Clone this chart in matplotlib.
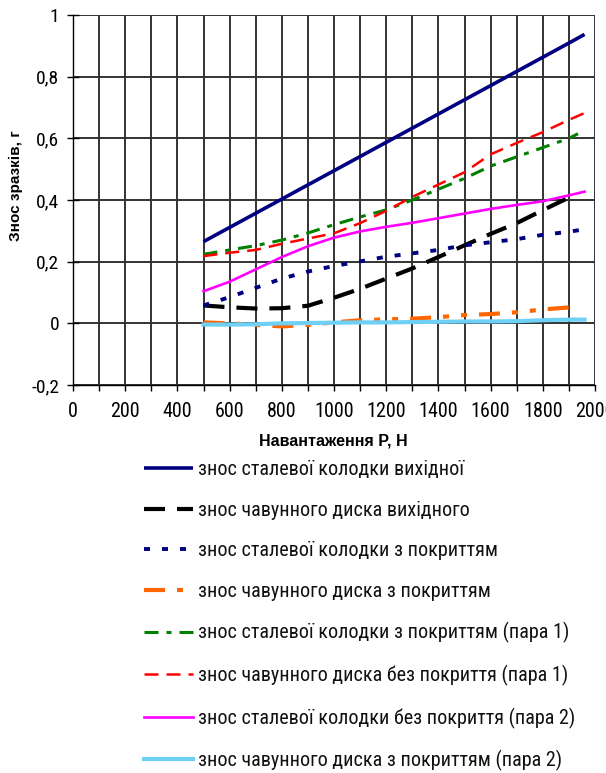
import matplotlib
matplotlib.use("Agg")
import matplotlib.pyplot as plt
from matplotlib.ticker import FixedLocator

plt.rcParams['font.family'] = ['Roboto Condensed', 'PT Sans Narrow', 'Liberation Sans', 'DejaVu Sans']
plt.rcParams['lines.scale_dashes'] = False

# ---------------- data ----------------
x_main = [500, 600, 700, 800, 900, 1000, 1100, 1200, 1300, 1400, 1500, 1600, 1700, 1800, 1900, 1960]

steel_initial = [0.265, 0.311, 0.357, 0.403, 0.449, 0.495, 0.541, 0.587, 0.633, 0.679,
                 0.725, 0.771, 0.817, 0.863, 0.909, 0.937]

x_iron_initial = [500, 600, 700, 800, 900, 1000, 1100, 1200, 1300, 1400, 1500, 1600, 1700, 1800, 1910]
iron_initial = [0.058, 0.052, 0.048, 0.049, 0.057, 0.083, 0.112, 0.145, 0.178, 0.215,
                0.253, 0.290, 0.325, 0.367, 0.412]

steel_coated = [0.058, 0.085, 0.115, 0.145, 0.168, 0.186, 0.201, 0.216, 0.227, 0.238,
                0.253, 0.263, 0.273, 0.287, 0.297, 0.305]

x_iron_coated = [500, 600, 700, 800, 900, 1000, 1100, 1200, 1300, 1400, 1500, 1600, 1700, 1800, 1920]
iron_coated = [0.003, 0.000, -0.005, -0.010, -0.005, 0.003, 0.010, 0.013, 0.015, 0.020,
               0.027, 0.030, 0.036, 0.045, 0.053]

x_steel_coated_p1 = [500, 600, 700, 800, 900, 1000, 1100, 1200, 1300, 1400, 1500, 1600, 1700, 1800, 1900, 1935]
steel_coated_p1 = [0.224, 0.238, 0.252, 0.270, 0.293, 0.320, 0.345, 0.368, 0.400, 0.435,
                   0.470, 0.510, 0.540, 0.570, 0.600, 0.615]

iron_uncoated_p1 = [0.218, 0.229, 0.238, 0.258, 0.275, 0.292, 0.325, 0.365, 0.410, 0.450,
                    0.490, 0.548, 0.585, 0.620, 0.660, 0.682]

steel_uncoated_p2 = [0.104, 0.135, 0.175, 0.215, 0.250, 0.278, 0.298, 0.313, 0.326, 0.341,
                     0.356, 0.371, 0.384, 0.396, 0.415, 0.427]

iron_coated_p2 = [-0.004, -0.004, -0.003, 0.000, 0.001, 0.002, 0.003, 0.003, 0.004, 0.005,
                  0.006, 0.006, 0.007, 0.010, 0.012, 0.012]

labels = [
    "знос сталевої колодки вихідної",
    "знос чавунного диска вихідного",
    "знос сталевої колодки з покриттям",
    "знос чавунного диска з покриттям",
    "знос сталевої колодки з покриттям (пара 1)",
    "знос чавунного диска без покриття (пара 1)",
    "знос сталевої колодки без покриття (пара 2)",
    "знос чавунного диска з покриттям (пара 2)",
]

x_ticks = list(range(0, 2001, 100))
x_tick_labels = [str(v) if v % 200 == 0 else "" for v in x_ticks]
y_ticks = [-0.2, 0.0, 0.2, 0.4, 0.6, 0.8, 1.0]
y_tick_labels = ["-0,2", "0", "0,2", "0,4", "0,6", "0,8", "1"]

# ---------------- figure ----------------
fig = plt.figure(figsize=(6.06, 7.73), dpi=100)
ax = fig.add_axes([73 / 606, 1 - 385 / 773, 522 / 606, 370 / 773])

px = 0.72  # points per pixel

ax.plot(x_main, steel_initial, color='#000080', lw=2.6, solid_capstyle='butt', label=labels[0])
ax.plot(x_iron_initial, iron_initial, color='black', lw=3.0,
        linestyle=(0, (21 * px, 12 * px)), label=labels[1])
ax.plot(x_main, steel_coated, color='#000080', lw=2.8,
        linestyle=(0, (6 * px, 12 * px)), label=labels[2])
ax.plot(x_iron_coated, iron_coated, color='#FF6600', lw=3.0,
        linestyle=(0, (21 * px, 12 * px, 6 * px, 12 * px, 6 * px, 12 * px)), label=labels[3])
ax.plot(x_steel_coated_p1, steel_coated_p1, color='#008000', lw=2.2,
        linestyle=(0, (14 * px, 8 * px, 5 * px, 8 * px)), label=labels[4])
ax.plot(x_main, iron_uncoated_p1, color='#FF0000', lw=1.8,
        linestyle=(0, (14 * px, 8 * px)), label=labels[5])
ax.plot(x_main, steel_uncoated_p2, color='#FF00FF', lw=1.9, label=labels[6])
ax.plot(x_main, iron_coated_p2, color='#6FD0F5', lw=3.0, label=labels[7])

ax.set_xlim(0, 2000)
ax.set_ylim(-0.2, 1.0)
ax.xaxis.set_major_locator(FixedLocator(x_ticks))
ax.set_xticklabels(x_tick_labels)
ax.set_yticks(y_ticks)
ax.set_yticklabels(y_tick_labels)

ax.grid(True, color='#333333', lw=1.4)
ax.set_axisbelow(True)
for s in ['top', 'right']:
    ax.spines[s].set_visible(False)
for s in ['left', 'bottom']:
    ax.spines[s].set_color('black')
    ax.spines[s].set_linewidth(1.0)

ax.tick_params(axis='x', direction='out', length=4, width=1, pad=8, labelsize=14.5, colors='black')
ax.tick_params(axis='y', direction='inout', length=8, width=1, pad=6, labelsize=14, colors='black')

ax.set_xlabel("Навантаження P, H", fontsize=11.5, fontweight='bold',
              family=['Liberation Sans', 'DejaVu Sans'])
ax.xaxis.set_label_coords(0.498, -0.132)
ax.set_ylabel("Знос зразків, г", fontsize=11, fontweight='bold',
              family=['Liberation Sans', 'DejaVu Sans'])
ax.yaxis.set_label_coords(-0.095, 0.54)

leg = ax.legend(loc='upper left', bbox_to_anchor=(144 / 606, 1 - 460 / 773),
                bbox_transform=fig.transFigure, frameon=False, fontsize=14.5,
                handlelength=2.44, handletextpad=0.24, labelspacing=1.07,
                borderpad=0, borderaxespad=0)
for t in leg.get_texts():
    t.set_color('#111111')

fig.savefig("out.png", dpi=100)
